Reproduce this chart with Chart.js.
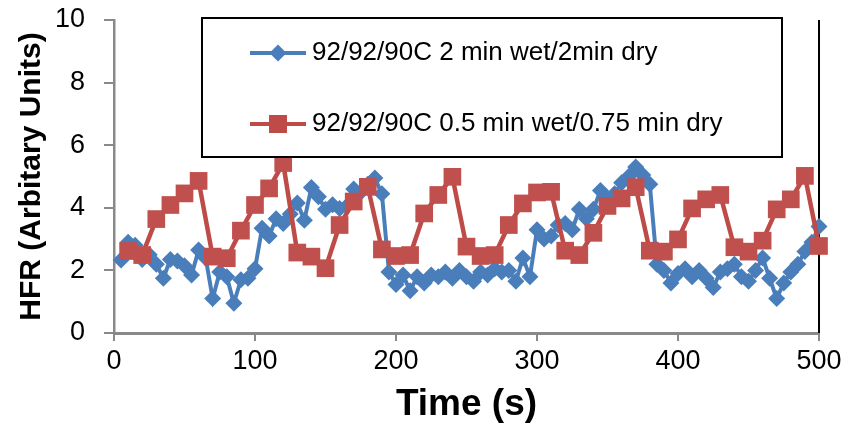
<!DOCTYPE html>
<html><head><meta charset="utf-8">
<script src="https://cdn.jsdelivr.net/npm/chart.js@4/dist/chart.umd.min.js"></script>
<style>html,body{margin:0;padding:0;background:#fff;overflow:hidden}</style>
</head><body>
<canvas id="c" width="841" height="429"></canvas>
<script>
// ---- data ----
const seriesLabels = ["92/92/90C 2 min wet/2min dry", "92/92/90C 0.5 min wet/0.75 min dry"];
const blueTimes = [5,10,15,20,25,30,35,40,45,50,55,60,65,70,75,80,85,90,95,100,
  105,110,115,120,125,130,135,140,145,150,155,160,165,170,175,180,185,190,195,200,
  205,210,215,220,225,230,235,240,245,250,255,260,265,270,275,280,285,290,295,300,
  305,310,315,320,325,330,335,340,345,350,355,360,365,370,375,380,385,390,395,400,
  405,410,415,420,425,430,435,440,445,450,455,460,465,470,475,480,485,490,495,500];
const blueHFR = [2.33,2.9,2.8,2.35,2.5,2.2,1.75,2.35,2.3,2.15,1.85,2.65,2.4,1.1,1.95,1.8,0.95,1.7,1.75,2.05,
  3.35,3.1,3.65,3.5,3.8,4.15,3.6,4.65,4.35,3.95,4.1,3.98,4.05,4.6,4.5,4.75,4.95,4.45,1.95,1.55,
  1.85,1.35,1.8,1.6,1.85,1.8,1.95,1.75,2.0,1.8,1.65,1.95,1.85,2.05,1.95,2.0,1.65,2.4,1.8,3.3,
  3.0,3.1,3.45,3.5,3.3,3.95,3.65,3.95,4.55,4.3,4.45,4.8,5.0,5.3,5.05,4.75,2.2,2.0,1.6,1.9,
  2.05,1.8,2.0,1.75,1.45,1.95,2.05,2.2,1.8,1.65,2.0,2.4,1.75,1.1,1.6,1.95,2.2,2.6,2.9,3.4];
const redTimes = [10,20,30,40,50,60,70,80,90,100,110,120,130,140,150,160,170,180,190,200,
  210,220,230,240,250,260,270,280,290,300,310,320,330,340,350,360,370,380,390,400,
  410,420,430,440,450,460,470,480,490,500];
const redHFR = [2.62,2.49,3.64,4.09,4.46,4.86,2.44,2.39,3.27,4.09,4.62,5.43,2.57,2.44,2.07,3.45,4.2,4.67,2.67,2.46,
  2.49,3.82,4.41,4.99,2.76,2.46,2.49,3.45,4.14,4.49,4.51,2.63,2.49,3.2,4.06,4.3,4.66,2.63,2.6,2.99,
  3.98,4.27,4.41,2.74,2.6,2.95,3.95,4.27,5.02,2.78];
const xTicks = [0,100,200,300,400,500];
const yTicks = [0,2,4,6,8,10];

// ---- style ----
const FONT = "'Liberation Sans', Arial, sans-serif";
const BLUE = '#4A7EBB', RED = '#BE4B48', AXIS = '#898989';

function pts(xs, ys){ return xs.map((x,i)=>({x:x, y:ys[i]})); }

const rightEdge = {
  id:'rightEdge',
  beforeDatasetsDraw(chart){
    const a = chart.chartArea, ctx = chart.ctx;
    ctx.save(); ctx.strokeStyle = '#000'; ctx.lineWidth = 2;
    ctx.beginPath(); ctx.moveTo(a.right, a.top); ctx.lineTo(a.right, a.bottom); ctx.stroke();
    ctx.restore();
  }
};

const boxLegend = {
  id:'boxLegend',
  afterDatasetsDraw(chart){
    const ctx = chart.ctx;
    const bx = 202, by = 18, bw = 580, bh = 139;
    ctx.save();
    ctx.fillStyle = '#fff'; ctx.fillRect(bx, by, bw, bh);
    ctx.strokeStyle = '#000'; ctx.lineWidth = 2; ctx.strokeRect(bx, by, bw, bh);
    const rows = [
      {y:53, color:BLUE, shape:'diamond', text:seriesLabels[0]},
      {y:124, color:RED, shape:'square', text:seriesLabels[1]}
    ];
    rows.forEach(r=>{
      ctx.strokeStyle = r.color; ctx.lineWidth = 4;
      ctx.beginPath(); ctx.moveTo(250, r.y); ctx.lineTo(306, r.y); ctx.stroke();
      ctx.fillStyle = r.color;
      ctx.beginPath();
      if (r.shape === 'diamond') {
        const s = 8.5;
        ctx.moveTo(278, r.y - s); ctx.lineTo(278 + s, r.y); ctx.lineTo(278, r.y + s); ctx.lineTo(278 - s, r.y); ctx.closePath();
      } else {
        ctx.rect(278 - 9, r.y - 9, 18, 18);
      }
      ctx.fill();
      ctx.fillStyle = '#000'; ctx.font = '26px ' + FONT; ctx.textBaseline = 'middle'; ctx.textAlign = 'left';
      ctx.fillText(r.text, 312, r.y);
    });
    ctx.restore();
  }
};

new Chart(document.getElementById('c'), {
  type: 'line',
  data: {
    datasets: [
      { label: seriesLabels[1], data: pts(redTimes, redHFR), borderColor: RED, backgroundColor: RED,
        borderWidth: 4.5, pointStyle: 'rect', pointRadius: 12.5, pointBorderWidth: 0,
        pointBackgroundColor: '#C0504D', tension: 0, clip: false, order: 0 },
      { label: seriesLabels[0], data: pts(blueTimes, blueHFR), borderColor: BLUE, backgroundColor: BLUE,
        borderWidth: 4, pointStyle: 'rectRot', pointRadius: 8.5, pointBorderWidth: 0,
        pointBackgroundColor: '#4A7EBB', tension: 0, clip: false, order: 1 }
    ]
  },
  options: {
    responsive: false, animation: false, devicePixelRatio: 1,
    layout: { padding: { top: 20, right: 22, left: 0, bottom: 0 } },
    plugins: { legend: { display: false }, tooltip: { enabled: false } },
    scales: {
      x: {
        type: 'linear', min: 0, max: 500,
        afterBuildTicks: s => { s.ticks = xTicks.map(v => ({ value: v })); },
        ticks: { font: { size: 27, family: FONT }, color: '#000', padding: 4, maxRotation: 0 },
        grid: { display: true, drawOnChartArea: false, drawTicks: true, tickLength: 8, color: AXIS, lineWidth: 2 },
        border: { display: true, color: AXIS, width: 3 },
        title: { display: true, text: 'Time (s)', color: '#000', font: { size: 37, weight: 'bold', family: FONT }, padding: { top: 0, bottom: 2 } },
        afterFit: s => { s.height = 96; s.paddingLeft = 0; s.paddingRight = 0; }
      },
      y: {
        type: 'linear', min: 0, max: 10,
        afterBuildTicks: s => { s.ticks = yTicks.map(v => ({ value: v })); },
        ticks: { font: { size: 27, family: FONT }, color: '#000', padding: 19 },
        grid: { display: true, drawOnChartArea: false, drawTicks: true, tickLength: 10, color: AXIS, lineWidth: 2 },
        border: { display: true, color: AXIS, width: 2.5 },
        title: { display: true, text: 'HFR (Arbitary Units)', color: '#000', font: { size: 30, weight: 'bold', family: FONT }, padding: { top: 14, bottom: 0 } },
        afterFit: s => { s.width = 114; s.paddingTop = 0; s.paddingBottom = 0; }
      }
    }
  },
  plugins: [rightEdge, boxLegend]
});
</script>
</body></html>
